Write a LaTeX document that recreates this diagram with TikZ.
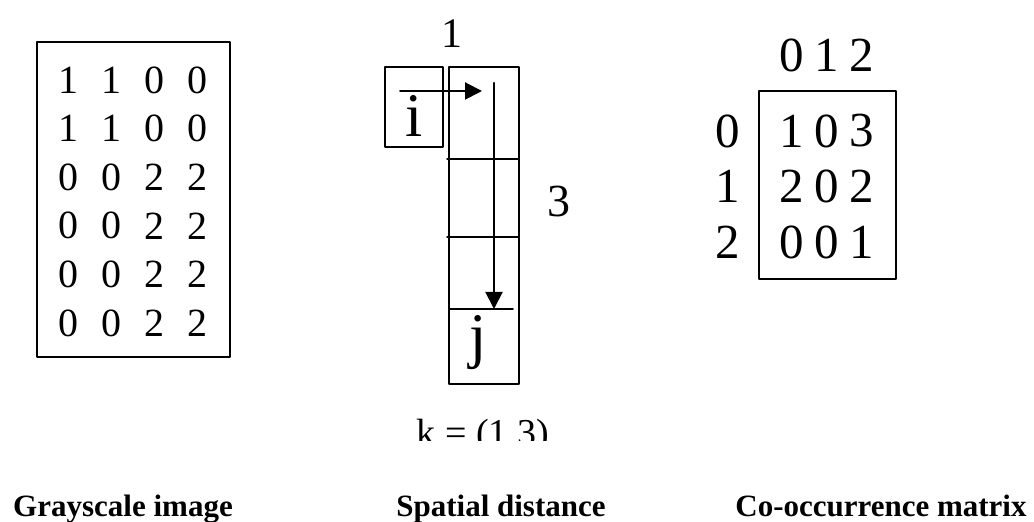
\documentclass[tikz,border=0pt]{standalone}
\usepackage{fontspec}
\setmainfont{Liberation Serif}
\usetikzlibrary{arrows.meta}
\newcommand{\fsz}[1]{\fontsize{#1}{#1}\selectfont}

\begin{document}
\begin{tikzpicture}[x=0.5pt,y=-0.5pt,line cap=round,line join=round]
  \useasboundingbox (0,0) rectangle (1034,522);
  \tikzset{
    digit/.style={inner sep=0pt,font=\fsz{#1}},
    caption/.style={inner sep=0pt,anchor=base,font=\fsz{15.5}\bfseries},
    pointer/.style={line width=1pt,-{Triangle[length=8.5pt,width=8.5pt]}}
  }
  % grayscale image
  \draw[line width=0.8pt] (37,42) rectangle (230,357);
  \foreach \row [count=\r] in {{1,1,0,0},{1,1,0,0},{0,0,2,2},{0,0,2,2},{0,0,2,2},{0,0,2,2}} {
    \foreach \v [count=\c] in \row
      \node[digit=20] (g\r\c) at ({25+43*\c},{31.4+48.6*\r}) {\v};
  }
  % spatial distance
  \draw[line width=0.7pt] (385,67) rectangle (443,147);
  \draw[line width=0.7pt] (449,67) rectangle (519,384);
  \draw[line width=0.7pt] (447,159) -- (519,159);
  \draw[line width=0.7pt] (447,237) -- (519,237);
  \draw[line width=0.9pt] (449,309) -- (513,309);
  \node[digit=31] (i) at (414,116) {i};
  \node[digit=31] (j) at (478,343) {j};
  \coordinate (hs) at (400,91);
  \coordinate (he) at (482,91);
  \coordinate (vs) at (494,83);
  \coordinate (ve) at (494,309);
  \draw[pointer] (hs) -- (he);
  \draw[pointer] (vs) -- (ve);
  \node[digit=21] (dx) at (452,34) {1};
  \node[digit=23] (dy) at (559,202) {3};
  \begin{scope}
    \clip (380,400) rectangle (600,441);
    \node[digit=19,anchor=base] (k) at (483,446) {k = (1,3)};
  \end{scope}
  % co-occurrence matrix
  \draw[line width=0.8pt] (759,91) rectangle (896,279);
  \foreach \h [count=\c] in {0,1,2} {
    \node[digit=24.5] (top\c) at ({757+35*\c},55) {\h};
    \node[digit=24.5] (side\c) at (728,{75.5+55.5*\c}) {\h};
  }
  \foreach \row [count=\r] in {{1,0,3},{2,0,2},{0,0,1}} {
    \foreach \v [count=\c] in \row
      \node[digit=24.5] (m\r\c) at ({757+35*\c},{75.5+55.5*\r}) {\v};
  }
  % captions
  \node[caption] (capA) at (123,517) {Grayscale image};
  \node[caption] (capB) at (501,517) {Spatial distance};
  \node[caption] (capC) at (881,517) {Co-occurrence matrix};
\end{tikzpicture}
\end{document}
